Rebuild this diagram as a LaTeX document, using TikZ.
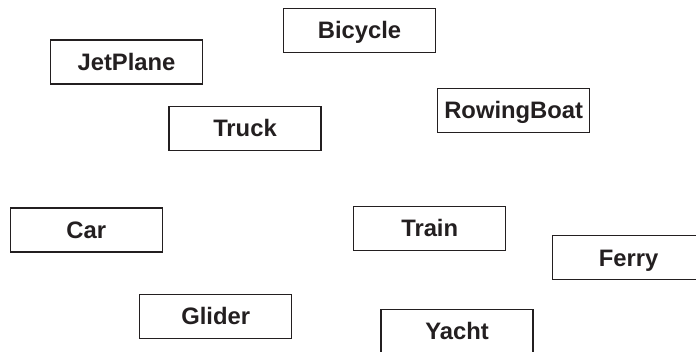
\documentclass[tikz,border=0pt]{standalone}
\usepackage{fontspec}
\setmainfont{Liberation Sans}
\definecolor{ink}{HTML}{231F20}
\begin{document}
\begin{tikzpicture}[x=1pt,y=-1pt,
  vbox/.style={draw=ink,line width=1.2pt,minimum width=152pt,minimum height=44pt,inner sep=0pt,
    text=ink,font=\fontsize{23.8}{28}\selectfont\bfseries,text height=17pt,text depth=0pt,fill=white}]
\clip (0,0) rectangle (696,352);
\fill[white] (0,0) rectangle (696,352);
\node[vbox] (bicycle) at (359.5,30.5) {Bicycle};
\node[vbox] (jetplane) at (126.5,62) {JetPlane};
\node[vbox] (rowingboat) at (513.7,110.5) {RowingBoat};
\node[vbox] (truck) at (245,128.5) {Truck};
\node[vbox] (car) at (86.3,230) {Car};
\node[vbox] (train) at (429.7,228.3) {Train};
\node[vbox] (ferry) at (628.7,257.7) {Ferry};
\node[vbox] (glider) at (215.7,316.5) {Glider};
\node[vbox] (yacht) at (457,331.5) {Yacht};
\end{tikzpicture}
\end{document}
